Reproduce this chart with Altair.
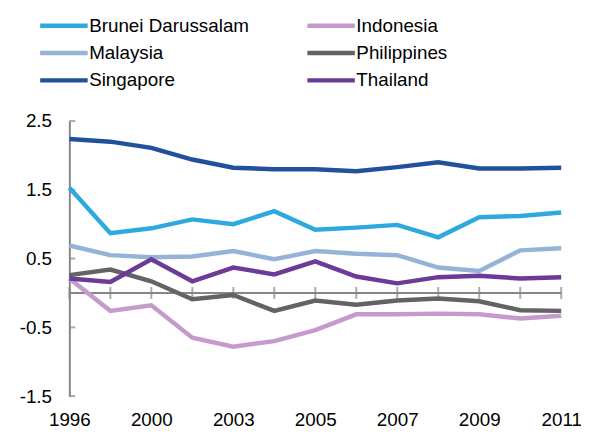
import altair as alt
import pandas as pd

years = ["1996", "1998", "2000", "2002", "2003", "2004", "2005",
         "2006", "2007", "2008", "2009", "2010", "2011"]
label_years = ["1996", "2000", "2003", "2005", "2007", "2009", "2011"]
y_ticks = [2.5, 1.5, 0.5, -0.5, -1.5]

countries = ["Brunei Darussalam", "Indonesia", "Malaysia",
             "Philippines", "Singapore", "Thailand"]
colors = ["#2EA9DF", "#C49BCB", "#95B3D7", "#636363", "#22519B", "#6C3A97"]

brunei = [1.53, 0.87, 0.94, 1.07, 1.00, 1.19, 0.92, 0.95, 0.99, 0.81, 1.10, 1.12, 1.17]
indonesia = [0.21, -0.26, -0.18, -0.65, -0.78, -0.70, -0.54, -0.31, -0.31, -0.30, -0.31, -0.37, -0.33]
malaysia = [0.69, 0.55, 0.52, 0.53, 0.61, 0.49, 0.61, 0.57, 0.55, 0.37, 0.32, 0.62, 0.65]
philippines = [0.26, 0.34, 0.17, -0.09, -0.03, -0.26, -0.11, -0.17, -0.11, -0.08, -0.12, -0.25, -0.26]
singapore = [2.24, 2.20, 2.11, 1.94, 1.82, 1.80, 1.80, 1.77, 1.83, 1.90, 1.81, 1.81, 1.82]
thailand = [0.21, 0.16, 0.49, 0.17, 0.37, 0.27, 0.46, 0.24, 0.14, 0.23, 0.25, 0.21, 0.23]

series = [brunei, indonesia, malaysia, philippines, singapore, thailand]

rows = []
for c, vals in zip(countries, series):
    for yr, v in zip(years, vals):
        rows.append({"country": c, "year": yr, "value": v})
df = pd.DataFrame(rows)

FONT = "Liberation Sans"
GRAY = "#868686"

x_scale = alt.Scale(type="point", padding=0, domain=years)
y_scale = alt.Scale(domain=[-1.5, 2.5], nice=False, zero=False)

x_axis = alt.Axis(values=label_years, ticks=False, domain=False, labelAngle=0,
                  labelAlign="center", labelBaseline="top",
                  labelPadding=15, labelFontSize=19, labelFont=FONT,
                  labelColor="#000000", title=None, grid=False)
y_axis = alt.Axis(values=y_ticks, ticks=False, domain=True,
                  domainColor=GRAY, domainWidth=2, labelPadding=18,
                  labelFontSize=19, labelFont=FONT, labelColor="#000000",
                  labelExpr="datum.value < 0 ? '-' + format(-datum.value, '.1f') : format(datum.value, '.1f')",
                  title=None, grid=False)

lines = alt.Chart(df).mark_line(strokeWidth=4.5).encode(
    x=alt.X("year:O", sort=years, scale=x_scale, axis=x_axis),
    y=alt.Y("value:Q", scale=y_scale, axis=y_axis),
    color=alt.Color("country:N", sort=countries,
                    scale=alt.Scale(domain=countries, range=colors),
                    legend=alt.Legend(orient="none", legendX=-32, legendY=-107,
                                      columns=2, direction="horizontal", title=None,
                                      symbolType="M-1,0H5", symbolSize=256,
                                      symbolStrokeWidth=4.5, labelFontSize=19,
                                      labelFont=FONT, labelColor="#000000",
                                      labelLimit=400,
                                      labelOffset=31, columnPadding=49,
                                      rowPadding=6.7)),
)

zero_line = alt.Chart(pd.DataFrame({"z": [0]})).mark_rule(
    color=GRAY, strokeWidth=2).encode(y=alt.Y("z:Q", scale=y_scale, axis=y_axis))

xt = pd.DataFrame({"year": years, "z": [0] * len(years)})
x_ticks = alt.Chart(xt).mark_tick(orient="vertical", size=12, thickness=2,
                                  color=GRAY).encode(
    x=alt.X("year:O", sort=years, scale=x_scale, axis=x_axis),
    y=alt.Y("z:Q", scale=y_scale, axis=y_axis))

yt = pd.DataFrame({"year": [years[0]] * len(y_ticks), "v": y_ticks})
y_tick_marks = alt.Chart(yt).mark_tick(orient="horizontal", size=6, thickness=2,
                                       color=GRAY, xOffset=3).encode(
    x=alt.X("year:O", sort=years, scale=x_scale, axis=x_axis),
    y=alt.Y("v:Q", scale=y_scale, axis=y_axis))

chart = alt.layer(zero_line, x_ticks, y_tick_marks, lines).properties(
    width=497, height=278,
    autosize=alt.AutoSizeParams(type="none"),
    padding={"left": 62, "top": 112, "right": 20, "bottom": 33},
).configure_view(stroke=None)

chart.save("out.html", embed_options={"renderer": "svg", "actions": False})
